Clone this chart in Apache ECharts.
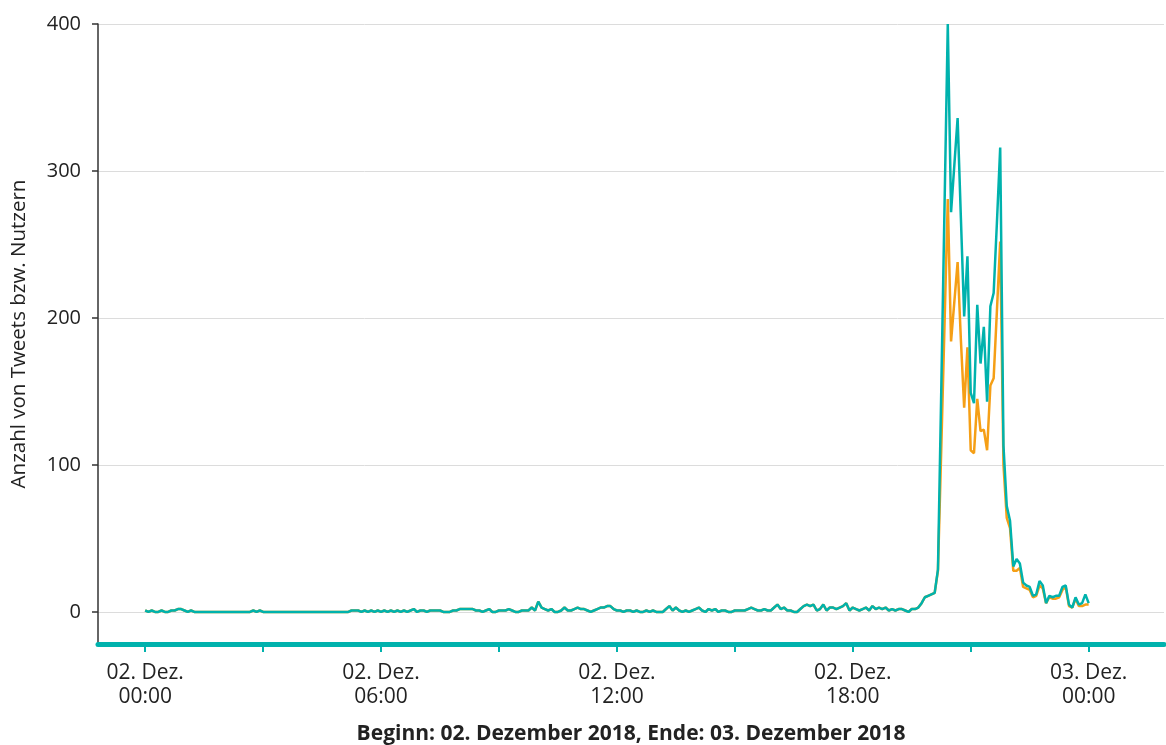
<!DOCTYPE html>
<html><head><meta charset="utf-8">
<script src="https://cdn.jsdelivr.net/npm/echarts@6/dist/echarts.min.js"></script>
<style>html,body{margin:0;padding:0;background:#fff}#c{width:1166px;height:745px}</style>
</head><body><div id="c"></div>
<script>
// Time grid: 5-minute steps starting 02. Dez. 2018 00:00 (x in minutes since start)
const startTime = Date.UTC(2018, 11, 2, 0, 0);
const stepMinutes = 5;

// Shared quiet section (both series nearly identical), steps 0..241
const quietValues = [
  1,0,1,0,0,1,0,0,1,1,2,2,1,0,1,0,
  0,0,0,0,0,0,0,0,0,0,0,0,0,0,0,0,
  0,1,0,1,0,
  0,0,0,0,0,0,0,0,0,0,0,0,0,0,0,0,0,0,0,0,0,0,0,0,0,0,
  1,1,1,0,1,0,1,0,1,0,1,0,1,0,1,0,1,0,1,2,0,1,1,0,1,1,1,1,0,0,0,1,1,2,2,2,2,2,1,1,0,1,2,0,0,1,1,1,2,1,0,0,1,1,1,3,1,
  7,
  3,2,1,2,0,0,1,3,1,1,2,3,2,2,1,0,1,2,3,3,4,4,2,1,1,0,1,1,0,1,0,0,1,0,1,0,0,0,2,4,1,3,1,0,1,0,1,2,3,1,0,2,1,2,0,1,1,0,0,1,1,1,1,2,3,2,1,1,2,1,1,3,5,2,3,1,1,0,0,2,4,5,4,5,1,2,5,1,3,3,2,3,4,6,1,3,2,1,2,3,1,4,2,3,2,3,1,2,1,2,2,1,0,2,2,3,6,10,11,12,13
];
// Peak section, steps 242..288
const peakTweets = [29,150,275,400,272,304,336,268,201,242,149,142,209,169,194,143,208,217,265,316,113,72,62,31,36,33,20,18,17,11,12,21,18,6,11,10,11,11,17,18,5,3,10,5,6,12,6];
const peakUsers  = [28,110,195,281,184,211,238,185,139,180,110,108,145,123,124,110,154,159,205,252,100,64,57,28,28,30,17,16,15,10,11,18,16,6,10,9,9,10,15,17,4,3,9,4,4,5,5];

const xTickHours = [0,3,6,9,12,15,18,21,24];
const xLabelHours = [0,6,12,18,24];
const yTickValues = [0,100,200,300,400];
const seriesNames = ['Nutzer','Tweets'];

const tweets = quietValues.concat(peakTweets);
const users = quietValues.concat(peakUsers);
const toPairs = arr => arr.map((v, i) => [i * stepMinutes, v]);

const chart = echarts.init(document.getElementById('c'), null, {renderer: 'canvas'});
const font = "'Open Sans', sans-serif";
chart.setOption({
  animation: false,
  grid: {left: 98, right: 2, top: 24, bottom: 101, containLabel: false, outerBoundsMode: 'none'},
  xAxis: {
    type: 'value',
    min: -72,
    max: 1555,
    axisLine: {show: true, onZero: false, lineStyle: {color: '#00b2ad', width: 5}},
    axisTick: {show: true, customValues: xTickHours.map(h => h * 60), length: 8, lineStyle: {color: '#00b2ad', width: 2}},
    axisLabel: {
      customValues: xLabelHours.map(h => h * 60),
      formatter: function (v) {
        const d = new Date(startTime + v * 60000);
        const dd = String(d.getUTCDate()).padStart(2, '0');
        const hh = String(d.getUTCHours()).padStart(2, '0');
        const mm = String(d.getUTCMinutes()).padStart(2, '0');
        return dd + '. Dez.\n' + hh + ':' + mm;
      },
      fontSize: 21, lineHeight: 24, color: '#222', margin: 17, fontFamily: font
    },
    splitLine: {show: false},
    name: 'Beginn: 02. Dezember 2018, Ende: 03. Dezember 2018',
    nameLocation: 'middle', nameGap: 80,
    nameTextStyle: {fontWeight: 'bold', fontSize: 21, color: '#222', fontFamily: font}
  },
  yAxis: {
    type: 'value', min: -21.8, max: 400,
    axisLine: {show: true, onZero: false, lineStyle: {color: '#333', width: 1.5}},
    axisTick: {show: true, customValues: yTickValues, length: 6, lineStyle: {color: '#333', width: 1.5}},
    axisLabel: {customValues: yTickValues, fontSize: 20, color: '#222', margin: 17, fontFamily: font},
    splitLine: {show: true, lineStyle: {color: '#dcdcdc', width: 1}},
    name: 'Anzahl von Tweets bzw. Nutzern',
    nameLocation: 'middle', nameGap: 68, nameRotate: 90,
    nameTextStyle: {fontSize: 20.5, color: '#222', fontFamily: font}
  },
  series: [
    {name: seriesNames[0], type: 'line', data: toPairs(users), showSymbol: false, symbol: 'none',
     lineStyle: {color: '#f59f16', width: 2.5}, itemStyle: {color: '#f59f16'}},
    {name: seriesNames[1], type: 'line', data: toPairs(tweets), showSymbol: false, symbol: 'none',
     lineStyle: {color: '#00b2ad', width: 2.5}, itemStyle: {color: '#00b2ad'}}
  ]
});
</script>
</body></html>
